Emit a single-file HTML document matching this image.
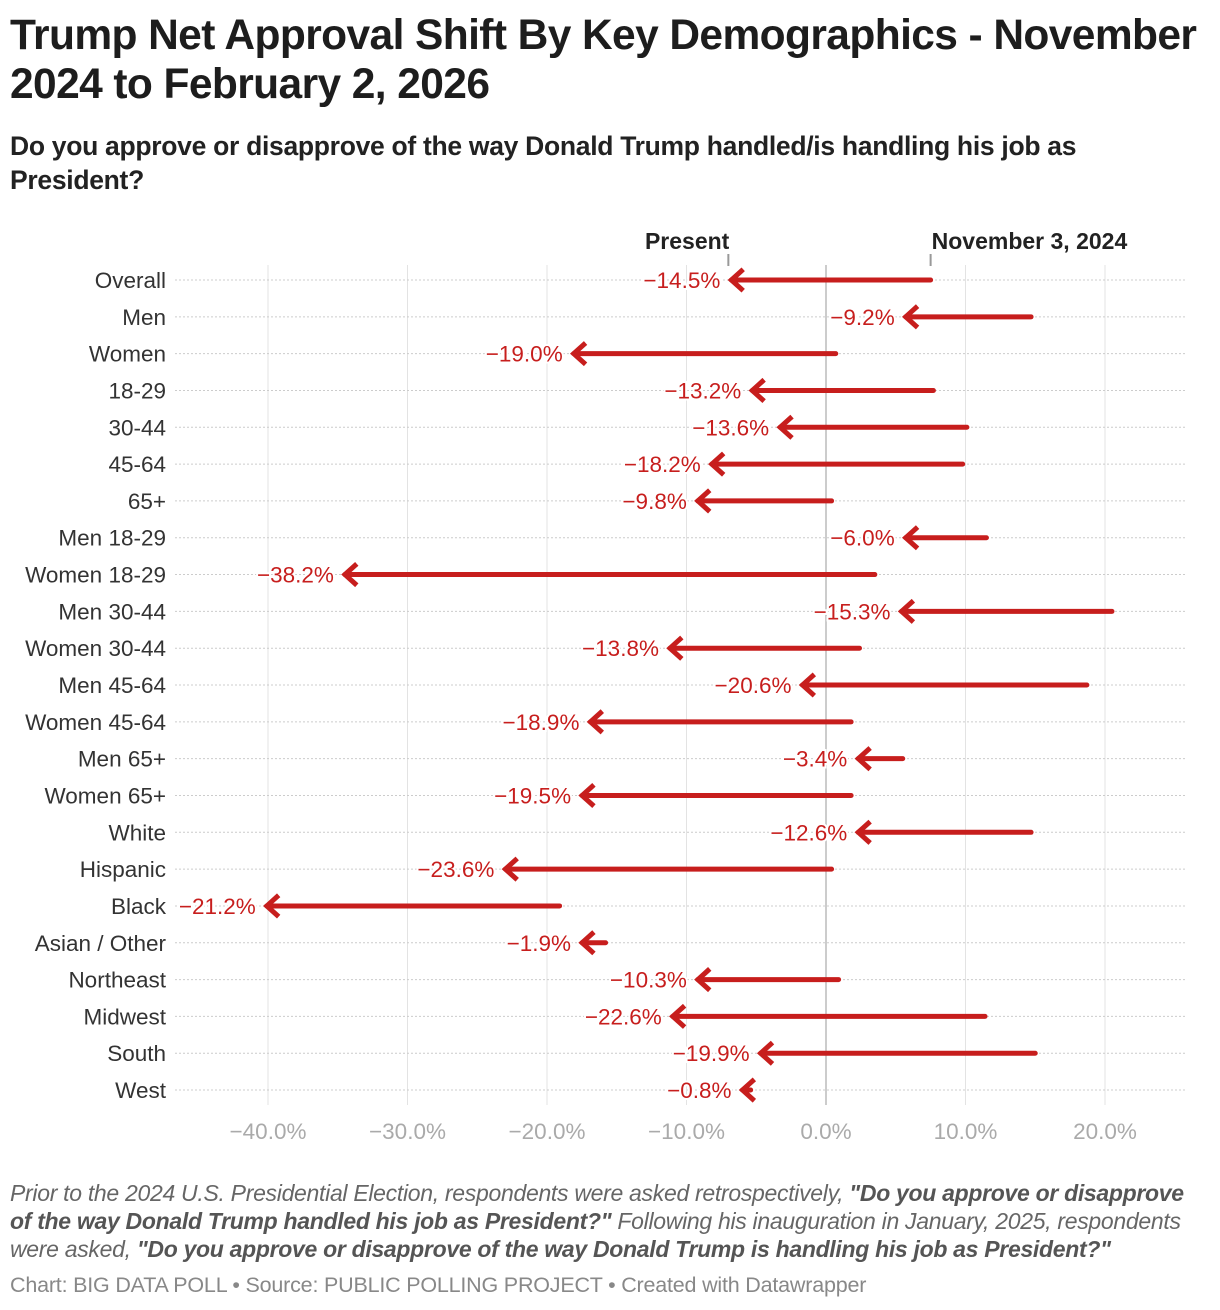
<!DOCTYPE html>
<html><head><meta charset="utf-8">
<style>
body{margin:0;width:1220px;height:1310px;background:#fff;font-family:"Liberation Sans",sans-serif;position:relative;overflow:hidden}
.t{position:absolute;left:10px;white-space:nowrap}
#title{top:11px;font-size:42.5px;font-weight:bold;color:#1d1d1d;line-height:49px;letter-spacing:-0.6px}
#sub{top:129px;font-size:26.5px;font-weight:bold;color:#222;line-height:34px;letter-spacing:-0.3px}
#note{top:1179px;font-size:23px;font-style:italic;color:#666;line-height:28px;letter-spacing:-0.3px}
#note b{color:#555}
#credit{top:1273px;font-size:21.5px;color:#888;letter-spacing:-0.2px}
svg{position:absolute;left:0;top:0}
</style></head><body>
<div id="title" class="t">Trump Net Approval Shift By Key Demographics - November<br>2024 to February 2, 2026</div>
<div id="sub" class="t">Do you approve or disapprove of the way Donald Trump handled/is handling his job as<br>President?</div>
<svg id="chart" width="1220" height="1170"></svg>
<div id="note" class="t">Prior to the 2024 U.S. Presidential Election, respondents were asked retrospectively, <b>"Do you approve or disapprove<br>of the way Donald Trump handled his job as President?"</b> Following his inauguration in January, 2025, respondents<br>were asked, <b>"Do you approve or disapprove of the way Donald Trump is handling his job as President?"</b></div>
<div id="credit" class="t">Chart: BIG DATA POLL • Source: PUBLIC POLLING PROJECT • Created with Datawrapper</div>
<script>
const categories=["Overall","Men","Women","18-29","30-44","45-64","65+","Men 18-29","Women 18-29","Men 30-44","Women 30-44","Men 45-64","Women 45-64","Men 65+","Women 65+","White","Hispanic","Black","Asian / Other","Northeast","Midwest","South","West"];
const nov2024=[7.5,14.7,0.7,7.7,10.1,9.8,0.4,11.5,3.5,20.5,2.4,18.7,1.8,5.5,1.8,14.7,0.4,-19.1,-15.8,0.9,11.4,15.0,-5.4];
const present=[-7.0,5.5,-18.3,-5.5,-3.5,-8.4,-9.4,5.5,-34.7,5.2,-11.4,-1.9,-17.1,2.1,-17.7,2.1,-23.2,-40.3,-17.7,-9.4,-11.2,-4.9,-6.2];
const changeLabels=["−14.5%","−9.2%","−19.0%","−13.2%","−13.6%","−18.2%","−9.8%","−6.0%","−38.2%","−15.3%","−13.8%","−20.6%","−18.9%","−3.4%","−19.5%","−12.6%","−23.6%","−21.2%","−1.9%","−10.3%","−22.6%","−19.9%","−0.8%"];
const ticks=[-40,-30,-20,-10,0,10,20];
const tickLabels=["−40.0%","−30.0%","−20.0%","−10.0%","0.0%","10.0%","20.0%"];
const svg=document.getElementById('chart');const NS='http://www.w3.org/2000/svg';
const x=v=>826+v*13.95;const y=i=>280+i*36.82;
function mk(t,a,p){const e=document.createElementNS(NS,t);for(const k in a)e.setAttribute(k,a[k]);(p||svg).appendChild(e);return e;}
const RED='#c71e1d';
ticks.forEach((t,i)=>{
 const g=mk('line',{x1:x(t),x2:x(t),y1:265,y2:1105,stroke:t===0?'#bbb':'#e3e3e3','stroke-width':t===0?1.5:1});
 
 
 const l=mk('text',{x:x(t),y:1139,'text-anchor':'middle','font-size':22.5,fill:'#aaa','font-family':'Liberation Sans, sans-serif'});l.textContent=tickLabels[i];
 
 
});
categories.forEach((c,i)=>{
 const yy=y(i);
 const d=mk('line',{x1:175,x2:1187,y1:yy,y2:yy,stroke:'#ccc','stroke-width':1,'stroke-dasharray':'2,2'});
 
 
 const lab=mk('text',{x:166,y:yy+8,'text-anchor':'end','font-size':22.5,fill:'#333','font-family':'Liberation Sans, sans-serif'});lab.textContent=c;
 
 
 const x1=x(nov2024[i]),x2=x(present[i]);
 const ln=mk('line',{x1:x1,x2:x2+3,y1:yy,y2:yy,stroke:RED,'stroke-width':5,'stroke-linecap':'round'});
 
 
 const hd=mk('polyline',{points:`${x2+13},${yy-9} ${x2+3},${yy} ${x2+13},${yy+9}`,fill:'none',stroke:RED,'stroke-width':5,'stroke-linecap':'square'});
 
 
 const v=mk('text',{x:x2-8,y:yy+8,'text-anchor':'end','font-size':22.5,fill:RED,'font-family':'Liberation Sans, sans-serif',stroke:'#fff','stroke-width':4,'paint-order':'stroke'});v.textContent=changeLabels[i];
 
 
});
const px=x(present[0]),nx=x(nov2024[0]);
[[px,'Present','end'],[nx,'November 3, 2024','start']].forEach(([xx,t,a],k)=>{
 const tk=mk('line',{x1:xx,x2:xx,y1:254,y2:266,stroke:'#999','stroke-width':2});
 
 
 const tx=mk('text',{x:a==='start'?xx+1:xx+1,y:249,'text-anchor':a,'font-size':23,'font-weight':'bold',fill:'#222','font-family':'Liberation Sans, sans-serif'});tx.textContent=t;
 
 
});
</script>
</body></html>
